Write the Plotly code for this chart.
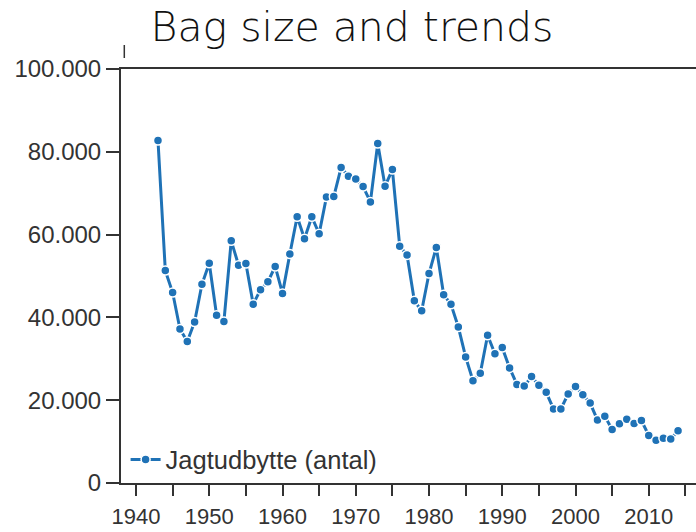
import plotly.graph_objects as go

years = list(range(1943, 2015))
bag = [82700, 51300, 46000, 37200, 34200, 38900, 48000, 53100, 40500, 39000,
       58500, 52600, 53000, 43200, 46700, 48600, 52300, 45800, 55300, 64300,
       59000, 64300, 60200, 69100, 69200, 76200, 74100, 73400, 71600, 67900,
       82000, 71700, 75700, 57200, 55100, 44000, 41600, 50600, 56900, 45500,
       43150, 37700, 30450, 24700, 26500, 35700, 31200, 32700, 27800, 23800,
       23400, 25700, 23600, 21900, 17900, 17900, 21500, 23300, 21300, 19300,
       15200, 16100, 12900, 14300, 15400, 14400, 15100, 11500, 10300, 10800,
       10600, 12600]

x_tickvals = list(range(1940, 2020, 5))
x_ticktext = ["1940", "", "1950", "", "1960", "", "1970", "", "1980", "",
              "1990", "", "2000", "", "2010", ""]
y_tickvals = [0, 20000, 40000, 60000, 80000, 100000]
y_ticktext = ["0", "20.000", "40.000", "60.000", "80.000", "100.000"]

series_name = "Jagtudbytte (antal)"
title_text = "Bag size and trends"

W, H = 696, 532
ml, mr, mt, mb = 121, 0, 69, 49

fig = go.Figure()
fig.add_trace(go.Scatter(
    x=years, y=bag, mode="lines+markers", name=series_name,
    line=dict(color="#1f72b6", width=3),
    marker=dict(size=9, color="#1f72b6", line=dict(color="white", width=1.5)),
))

axis_color = "#333333"
fig.update_layout(
    width=W, height=H,
    margin=dict(l=ml, r=mr, t=mt, b=mb, pad=0, autoexpand=False),
    paper_bgcolor="white", plot_bgcolor="white",
    title=dict(text=title_text, x=352 / W, y=1 - 27 / H, xref="container", yref="container",
               xanchor="center", yanchor="middle",
               font=dict(family="DejaVu Sans, sans-serif", size=41, weight=200, color="#111111")),
    showlegend=True,
    legend=dict(x=0.008, y=0.056, xanchor="left", yanchor="middle",
                bgcolor="rgba(0,0,0,0)", borderwidth=0,
                font=dict(family="Liberation Sans, Arial, sans-serif", size=25.5, color="#333333")),
    xaxis=dict(range=[1937.95, 2016.45], tickvals=x_tickvals, ticktext=x_ticktext,
               automargin=False,
               showgrid=False, zeroline=False, showline=True, linecolor=axis_color,
               linewidth=2, mirror=True, ticks="outside", ticklen=11, tickwidth=2,
               tickcolor=axis_color, ticklabelstandoff=2,
               tickfont=dict(family="Liberation Sans, Arial, sans-serif", size=22, color="#333333")),
    yaxis=dict(range=[0, 100000], tickvals=y_tickvals, ticktext=y_ticktext,
               automargin=False,
               showgrid=False, zeroline=False, showline=True, linecolor=axis_color,
               linewidth=2, ticks="outside", ticklen=13, tickwidth=2, tickcolor=axis_color,
               tickfont=dict(family="Liberation Sans, Arial, sans-serif", size=24, color="#333333")),
)

plot_w = W - ml - mr
plot_h = H - mt - mb
fig.add_shape(type="line", xref="paper", yref="paper",
              x0=(124.3 - ml) / plot_w, x1=(124.3 - ml) / plot_w,
              y0=(H - mb - 58) / plot_h, y1=(H - mb - 45) / plot_h,
              line=dict(color=axis_color, width=1.5))

fig.write_html("out.html", config={"displayModeBar": False},
               post_script="document.body.style.margin='0';document.body.style.overflow='hidden';")
